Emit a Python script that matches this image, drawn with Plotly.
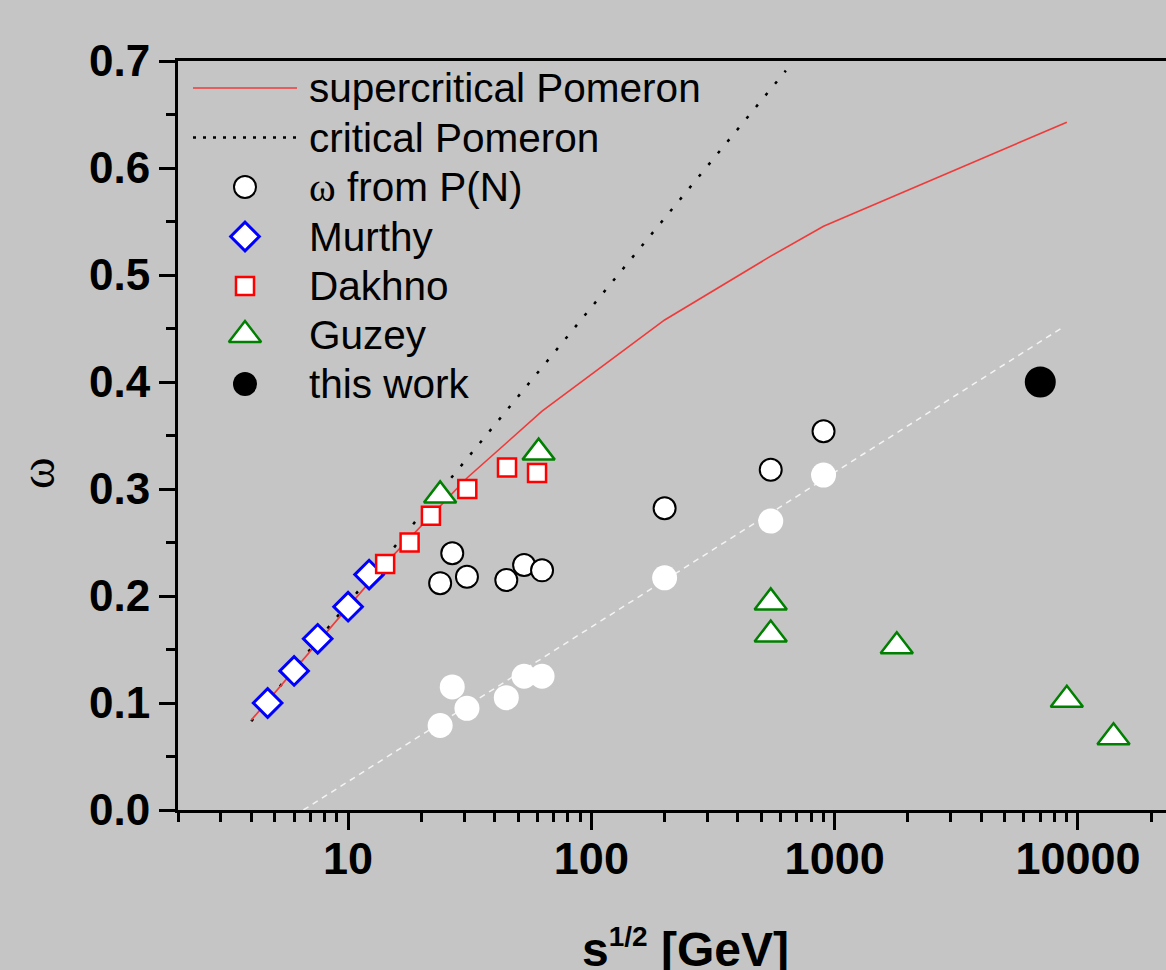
import plotly.graph_objects as go

# ---- measured points -------------------------------------------------------
murthy_x = [4.67, 6.0, 7.5, 10.0, 12.2]
murthy_y = [0.10, 0.13, 0.16, 0.19, 0.22]

dakhno_x = [14.2, 17.9, 21.9, 30.9, 45.0, 59.8]
dakhno_y = [0.230, 0.250, 0.275, 0.300, 0.320, 0.315]

guzey_x = [23.9, 60.7, 546, 546, 1800, 9000, 14000]
guzey_y = [0.294, 0.334, 0.194, 0.164, 0.153, 0.103, 0.068]

pn_x = [23.9, 26.8, 30.8, 44.7, 52.9, 62.7, 200, 546, 900]
pn_y = [0.212, 0.240, 0.218, 0.215, 0.229, 0.224, 0.282, 0.318, 0.354]

pn_low_y = [0.079, 0.115, 0.095, 0.105, 0.125, 0.125, 0.217, 0.270, 0.313]

this_x = [7000]
this_y = [0.40]

# ---- model curves ----------------------------------------------------------
super_x = [4.0, 14.2, 21.9, 30.9, 62.7, 200, 546, 900, 9000]
super_y = [0.084, 0.230, 0.275, 0.3105, 0.3727, 0.458, 0.5176, 0.5456, 0.6428]

crit_x = [4.0, 630]
crit_y = [0.083, 0.691]

guide_x = [6.55, 8650]
guide_y = [0.0, 0.451]

# ---- axis ticks ------------------------------------------------------------
x_major = [10, 100, 1000, 10000]
x_major_text = ["10", "100", "1000", "10000"]
x_minor = [m * 10 ** e for e in range(0, 5) for m in range(2, 10)]
y_major = [0.0, 0.1, 0.2, 0.3, 0.4, 0.5, 0.6, 0.7]

legend_labels = [
    "supercritical Pomeron",
    "critical Pomeron",
    '<span style="font-family:Liberation Serif">ω</span> from P(N)',
    "Murthy",
    "Dakhno",
    "Guzey",
    "this work",
]

BG = "#c4c5c4"
SANS = "Liberation Sans"

fig = go.Figure()

fig.add_trace(go.Scatter(x=guide_x, y=guide_y, mode="lines",
                         line=dict(color="#f4f4f4", width=1.5, dash="6px,5px")))
fig.add_trace(go.Scatter(x=crit_x, y=crit_y, mode="lines",
                         line=dict(color="black", width=2.5, dash="3px,12px")))
fig.add_trace(go.Scatter(x=super_x, y=super_y, mode="lines",
                         line=dict(color="#f03a3a", width=1.6)))
fig.add_trace(go.Scatter(x=pn_x, y=pn_low_y, mode="markers",
                         marker=dict(symbol="circle", size=25, color="white",
                                     line=dict(width=0))))
fig.add_trace(go.Scatter(x=pn_x, y=pn_y, mode="markers",
                         marker=dict(symbol="circle", size=22, color="white",
                                     line=dict(color="black", width=2))))
fig.add_trace(go.Scatter(x=murthy_x, y=murthy_y, mode="markers",
                         marker=dict(symbol="diamond", size=22, color="white",
                                     line=dict(color="#0000ff", width=3))))
fig.add_trace(go.Scatter(x=guzey_x, y=guzey_y, mode="markers",
                         marker=dict(symbol="triangle-up", size=28, color="white",
                                     line=dict(color="#008000", width=2.5))))
fig.add_trace(go.Scatter(x=dakhno_x, y=dakhno_y, mode="markers",
                         marker=dict(symbol="square", size=18, color="white",
                                     line=dict(color="#ff0000", width=2.5))))
fig.add_trace(go.Scatter(x=this_x, y=this_y, mode="markers",
                         marker=dict(symbol="circle", size=31, color="black",
                                     line=dict(width=0))))

# ---- legend drawn on a pixel-scaled overlay axis pair ----------------------
PX_L, PX_R, PX_T, PX_B = 178, 1166, 61, 810
leg_y = [88, 137.5, 187, 236.5, 286, 335, 384]
sym_x = 245
line_x0, line_x1 = 193, 297
text_x = 307

fig.add_trace(go.Scatter(x=[line_x0, line_x1], y=[leg_y[0]] * 2, mode="lines",
                         xaxis="x2", yaxis="y2",
                         line=dict(color="#f03a3a", width=1.6)))
fig.add_trace(go.Scatter(x=[line_x0, line_x1], y=[leg_y[1]] * 2, mode="lines",
                         xaxis="x2", yaxis="y2",
                         line=dict(color="black", width=2.5, dash="3px,7px")))
legend_markers = [
    dict(symbol="circle", size=22, color="white", line=dict(color="black", width=2)),
    dict(symbol="diamond", size=22, color="white", line=dict(color="#0000ff", width=3)),
    dict(symbol="square", size=18, color="white", line=dict(color="#ff0000", width=2.5)),
    dict(symbol="triangle-up", size=28, color="white", line=dict(color="#008000", width=2.5)),
    dict(symbol="circle", size=24, color="black", line=dict(width=0)),
]
for k, mk in enumerate(legend_markers):
    fig.add_trace(go.Scatter(x=[sym_x], y=[leg_y[k + 2]], mode="markers",
                             xaxis="x2", yaxis="y2", marker=mk))

annotations = []
for label, yy in zip(legend_labels, leg_y):
    annotations.append(dict(x=text_x, y=yy, xref="x2", yref="y2", text=label,
                            showarrow=False, xanchor="left", yanchor="middle",
                            font=dict(family=SANS, size=40.5, color="black")))

annotations.append(dict(x=(685 - PX_L) / (PX_R - PX_L), y=-0.185,
                        xref="paper", yref="paper",
                        text='s<sup><span style="font-size:28px">1/2</span></sup> [GeV]',
                        showarrow=False,
                        xanchor="center", yanchor="middle",
                        font=dict(family=SANS, size=48, color="black", weight="bold")))
annotations.append(dict(x=(38 - PX_L) / (PX_R - PX_L), y=(PX_B - 473) / (PX_B - PX_T),
                        xref="paper", yref="paper", text="ω", textangle=-90,
                        showarrow=False, xanchor="center", yanchor="middle",
                        font=dict(family="Liberation Serif", size=48, color="black")))

fig.update_layout(
    width=1166, height=970,
    margin=dict(l=PX_L, r=0, t=PX_T, b=970 - PX_B, pad=0),
    paper_bgcolor=BG, plot_bgcolor=BG,
    showlegend=False,
    annotations=annotations,
    xaxis=dict(
        type="log", range=[0.3009, 0.30103 + (PX_R - PX_L) / 243.3],
        showline=True, linecolor="black", linewidth=3, mirror=True,
        showgrid=False, zeroline=False,
        tickmode="array", tickvals=x_major, ticktext=x_major_text,
        ticks="outside", ticklen=17, tickwidth=3, tickcolor="black",
        ticklabelstandoff=-10,
        tickfont=dict(family=SANS, size=45, color="black", weight="bold"),
        minor=dict(tickmode="array", tickvals=x_minor, ticks="outside",
                   ticklen=9, tickwidth=2.5, tickcolor="black", showgrid=False),
    ),
    yaxis=dict(
        range=[0, 0.7], showline=True, linecolor="black", linewidth=3,
        showgrid=False, zeroline=False,
        tickmode="array", tickvals=y_major, tickformat=".1f",
        ticks="outside", ticklen=16, tickwidth=3, tickcolor="black",
        tickfont=dict(family=SANS, size=44, color="black", weight="bold"),
        minor=dict(dtick=0.05, tick0=0, ticks="outside", ticklen=9,
                   tickwidth=2.5, tickcolor="black", showgrid=False),
    ),
    xaxis2=dict(overlaying="x", anchor="y2", range=[PX_L, PX_R], visible=False,
                fixedrange=True),
    yaxis2=dict(overlaying="y", anchor="x2", range=[PX_B, PX_T], visible=False,
                fixedrange=True),
)

fig.write_html("out.html")
